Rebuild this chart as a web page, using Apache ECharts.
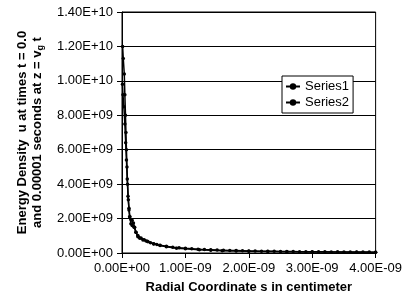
<!DOCTYPE html>
<html>
<head>
<meta charset="utf-8">
<script src="https://cdn.jsdelivr.net/npm/echarts@6/dist/echarts.min.js"></script>
<style>
  html, body { margin: 0; padding: 0; background: #fff; }
  #main { width: 405px; height: 304px; }
</style>
</head>
<body>
<div id="main"></div>
<script>
// s in units of 1E-9 cm, u in units of 1E+9
var series1S = [0.01, 0.02, 0.036, 0.045, 0.055, 0.062, 0.07, 0.078, 0.088, 0.1, 0.11, 0.12, 0.14, 0.16, 0.18, 0.2, 0.22, 0.25, 0.3, 0.35, 0.4, 0.45, 0.5, 0.55, 0.6, 0.7, 0.8, 0.9, 1.0, 1.1, 1.2, 1.3, 1.4, 1.5, 1.6, 1.7, 1.8, 1.9, 2.0, 2.1, 2.2, 2.3, 2.4, 2.5, 2.6, 2.7, 2.8, 2.9, 3.0, 3.1, 3.2, 3.3, 3.4, 3.5, 3.6, 3.7, 3.8, 3.9, 4.0];
var series1U = [12.0, 11.3, 10.4, 9.2, 8.0, 7.0, 6.0, 5.0, 4.0, 3.1, 2.5, 2.1, 1.95, 1.9, 1.75, 1.5, 1.2, 1.02, 0.87, 0.77, 0.68, 0.6, 0.54, 0.49, 0.45, 0.39, 0.34, 0.3, 0.27, 0.245, 0.22, 0.2, 0.185, 0.17, 0.16, 0.15, 0.14, 0.13, 0.12, 0.115, 0.108, 0.102, 0.097, 0.092, 0.087, 0.083, 0.079, 0.075, 0.072, 0.069, 0.066, 0.063, 0.061, 0.059, 0.057, 0.055, 0.053, 0.051, 0.05];
var series2S = [0.008, 0.015, 0.03, 0.045, 0.058, 0.07, 0.083, 0.095, 0.11, 0.125, 0.14, 0.16, 0.19, 0.22, 0.25, 0.28, 0.33, 0.38, 0.41, 0.5, 0.6, 0.7, 0.86, 1.0, 1.22, 1.4, 1.58, 1.8, 2.0, 2.3, 2.6, 3.0, 3.4, 3.7, 4.0];
var series2U = [9.8, 9.2, 8.5, 7.5, 6.4, 5.4, 4.3, 3.3, 2.6, 2.1, 1.7, 1.6, 1.5, 1.2, 0.95, 0.85, 0.76, 0.7, 0.66, 0.53, 0.43, 0.36, 0.28, 0.24, 0.19, 0.16, 0.135, 0.115, 0.098, 0.085, 0.074, 0.064, 0.056, 0.05, 0.046];
var xTicks = { min: 0, max: 4e-9, step: 1e-9 };
var yTicks = { min: 0, max: 1.4e10, step: 2e9 };
var S_UNIT = 1e-9, U_UNIT = 1e9;

function pairs(xs, ys) {
  return xs.map(function (x, i) { return [x * S_UNIT, ys[i] * U_UNIT]; });
}
function fmtE(v) {
  var s = Number(v).toExponential(2).toUpperCase();
  return s.replace(/E([+-])(\d)$/, 'E$10$2');
}

var myChart = echarts.init(document.getElementById('main'));
var font = 'Arial, "Liberation Sans", sans-serif';
var option = {
  animation: false,
  textStyle: { fontFamily: font },
  grid: {
    left: 122, right: 28, top: 12, bottom: 51,
    show: true, borderColor: '#000', borderWidth: 1
  },
  legend: {
    orient: 'vertical',
    left: 282, top: 76,
    padding: [4, 4, 4, 3],
    itemGap: 3,
    itemWidth: 14, itemHeight: 8,
    backgroundColor: '#fff',
    borderColor: '#000', borderWidth: 1,
    textStyle: { color: '#000', fontSize: 13, fontFamily: font },
    data: ['Series1', 'Series2']
  },
  xAxis: {
    type: 'value',
    min: xTicks.min, max: xTicks.max, interval: xTicks.step,
    name: 'Radial Coordinate s in centimeter',
    nameLocation: 'middle', nameGap: 28,
    nameTextStyle: { fontWeight: 'bold', fontSize: 13, color: '#000' },
    axisLine: { lineStyle: { color: '#000' } },
    axisTick: { show: true, length: 5, lineStyle: { color: '#000' } },
    axisLabel: { color: '#000', fontSize: 13, margin: 9, formatter: fmtE },
    splitLine: { show: false }
  },
  yAxis: {
    type: 'value',
    min: yTicks.min, max: yTicks.max, interval: yTicks.step,
    name: 'Energy Density  u at times t = 0.0\nand 0.00001 seconds at z = v{sub|g} t',
    nameLocation: 'middle', nameGap: 77, nameRotate: 90,
    nameTextStyle: {
      fontWeight: 'bold', fontSize: 13, color: '#000', lineHeight: 15,
      rich: { sub: { fontWeight: 'bold', fontSize: 9, verticalAlign: 'bottom', color: '#000' } }
    },
    axisLine: { show: true, lineStyle: { color: '#000' } },
    axisTick: { show: true, length: 5, lineStyle: { color: '#000' } },
    axisLabel: { color: '#000', fontSize: 13, margin: 9, formatter: fmtE },
    splitLine: { show: true, lineStyle: { color: '#000', width: 1 } }
  },
  series: [
    {
      name: 'Series1', type: 'line',
      data: pairs(series1S, series1U),
      symbol: 'circle', symbolSize: 3.5, showSymbol: true,
      lineStyle: { color: '#000', width: 1.5 },
      itemStyle: { color: '#000' }
    },
    {
      name: 'Series2', type: 'line',
      data: pairs(series2S, series2U),
      symbol: 'circle', symbolSize: 3.5, showSymbol: true,
      lineStyle: { color: '#000', width: 1.5 },
      itemStyle: { color: '#000' }
    }
  ]
};
myChart.setOption(option);
</script>
</body>
</html>
